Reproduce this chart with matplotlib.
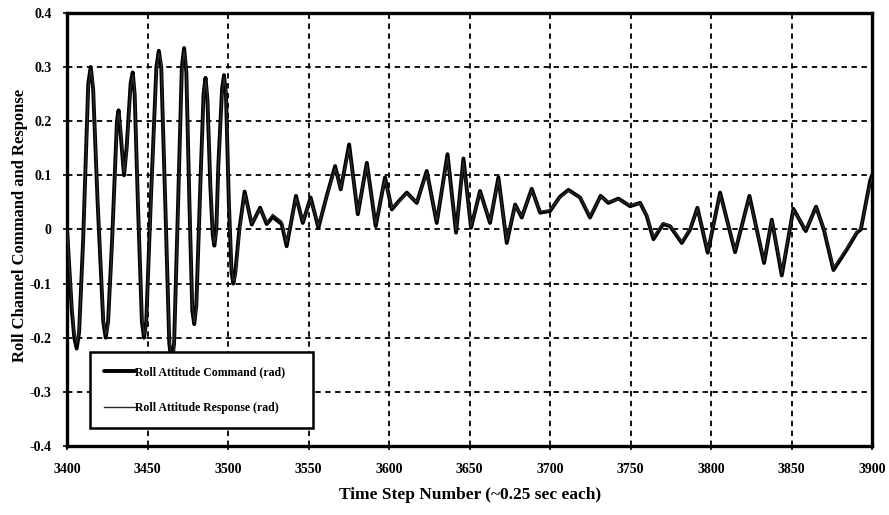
import matplotlib
matplotlib.use("Agg")
import matplotlib.pyplot as plt

step = [3400, 3403, 3404.5, 3406, 3407.5, 3410, 3413.2, 3414.7, 3416.2, 3419,
        3422.5, 3424, 3425.5, 3428, 3431, 3432, 3433.2, 3435.4, 3437, 3439.5,
        3440.8, 3442, 3444, 3446.5, 3447.8, 3449.2, 3452, 3455.5, 3457, 3458.5,
        3461, 3463.5, 3465, 3466.5, 3469, 3471.3, 3472.7, 3474.1, 3476, 3477.8,
        3479, 3480.3, 3483, 3484.8, 3486, 3487.2, 3489, 3490.5, 3491.5, 3492.7,
        3494, 3496.3, 3497.5, 3498.7, 3500.5, 3502.2, 3503.3, 3504.5, 3507, 3510.3,
        3514.7, 3519.9, 3524, 3527.7, 3533.3, 3536.4, 3542.2, 3546.4, 3551.3, 3556.1,
        3561.3, 3566.5, 3570, 3575.2, 3580.6, 3586.2, 3591.7, 3597.5, 3601.7, 3606,
        3611, 3617.2, 3623.4, 3629.6, 3636.3, 3641.6, 3646.2, 3650.9, 3656.5, 3662.7,
        3667.9, 3673.1, 3678.3, 3682.4, 3688.6, 3693.8, 3700, 3706, 3711.4, 3718.6,
        3724.8, 3731.4, 3736.2, 3742.4, 3749.7, 3755.9, 3760, 3764.2, 3770.2, 3774.5,
        3781.8, 3787, 3791.5, 3797.9, 3805.6, 3814.9, 3823.8, 3832.9, 3837.7, 3843.9,
        3851.1, 3858.8, 3865.2, 3870, 3876, 3884.3, 3890.5, 3893, 3898.8, 3900]

# roll attitude command (rad)
roll_cmd = [0.0, -0.15, -0.20, -0.22, -0.19, -0.02, 0.27, 0.30, 0.26, 0.05,
            -0.17, -0.20, -0.17, -0.02, 0.20, 0.22, 0.18, 0.10, 0.15, 0.27,
            0.29, 0.25, 0.05, -0.17, -0.20, -0.17, 0.05, 0.30, 0.33, 0.30,
            0.05, -0.21, -0.25, -0.21, 0.05, 0.30, 0.335, 0.29, 0.05, -0.15,
            -0.175, -0.14, 0.10, 0.25, 0.28, 0.24, 0.08, -0.01, -0.03, 0.00,
            0.12, 0.26, 0.285, 0.25, 0.05, -0.08, -0.10, -0.08, 0.00, 0.07,
            0.009, 0.04, 0.01, 0.023, 0.01, -0.031, 0.062, 0.012, 0.059, 0.003,
            0.062, 0.117, 0.074, 0.157, 0.028, 0.123, 0.006, 0.096, 0.037, 0.052,
            0.068, 0.049, 0.108, 0.012, 0.139, -0.006, 0.131, 0.003, 0.071, 0.012,
            0.096, -0.025, 0.046, 0.022, 0.075, 0.031, 0.034, 0.060, 0.073, 0.059,
            0.022, 0.062, 0.049, 0.057, 0.043, 0.049, 0.025, -0.018, 0.010, 0.006,
            -0.025, 0.000, 0.040, -0.043, 0.068, -0.042, 0.062, -0.062, 0.018, -0.085,
            0.038, -0.003, 0.042, 0.000, -0.075, -0.037, -0.006, 0.000, 0.090, 0.10]

# roll attitude response (rad), follows the command closely
roll_rsp = [0.0, -0.14, -0.19, -0.21, -0.19, -0.03, 0.26, 0.295, 0.27, 0.06,
            -0.16, -0.195, -0.18, -0.03, 0.19, 0.215, 0.19, 0.105, 0.14, 0.26,
            0.285, 0.26, 0.06, -0.16, -0.195, -0.18, 0.04, 0.29, 0.325, 0.31,
            0.06, -0.20, -0.245, -0.22, 0.04, 0.29, 0.33, 0.30, 0.06, -0.14,
            -0.17, -0.15, 0.09, 0.24, 0.275, 0.25, 0.09, 0.00, -0.025, -0.01,
            0.11, 0.25, 0.28, 0.26, 0.06, -0.07, -0.095, -0.09, -0.01, 0.065,
            0.012, 0.038, 0.013, 0.028, 0.015, -0.025, 0.058, 0.015, 0.056, 0.006,
            0.060, 0.112, 0.076, 0.150, 0.032, 0.118, 0.010, 0.092, 0.040, 0.050,
            0.066, 0.051, 0.104, 0.016, 0.133, -0.002, 0.126, 0.006, 0.069, 0.015,
            0.092, -0.020, 0.044, 0.024, 0.072, 0.033, 0.036, 0.058, 0.071, 0.060,
            0.025, 0.060, 0.051, 0.055, 0.045, 0.048, 0.027, -0.014, 0.012, 0.008,
            -0.022, 0.002, 0.038, -0.038, 0.064, -0.038, 0.058, -0.058, 0.016, -0.080,
            0.036, 0.000, 0.040, 0.002, -0.070, -0.034, -0.004, 0.002, 0.085, 0.095]

x_ticks = [3400, 3450, 3500, 3550, 3600, 3650, 3700, 3750, 3800, 3850, 3900]
y_ticks = [-0.4, -0.3, -0.2, -0.1, 0, 0.1, 0.2, 0.3, 0.4]
y_labels = ["-0.4", "-0.3", "-0.2", "-0.1", "0", "0.1", "0.2", "0.3", "0.4"]

plt.rcParams['font.family'] = ['Liberation Serif', 'DejaVu Serif']
plt.rcParams['font.weight'] = 'bold'

fig = plt.figure(figsize=(8.89, 5.15), dpi=100)
ax = fig.add_axes([0.0754, 0.134, 0.9056, 0.841])

ax.plot(step, roll_cmd, color='black', linewidth=2.8, solid_joinstyle='round',
        solid_capstyle='round', label='Roll Attitude Command (rad)', zorder=3)
ax.plot(step, roll_rsp, color='#2a2a2a', linewidth=1.0,
        label='Roll Attitude Response (rad)', zorder=4)

ax.set_xlim(3400, 3900)
ax.set_ylim(-0.4, 0.4)
ax.set_xticks(x_ticks)
ax.set_yticks(y_ticks)
ax.set_yticklabels(y_labels)
ax.tick_params(axis='both', labelsize=10, direction='out', length=3, width=1.2)
ax.tick_params(axis='x', pad=9)
ax.tick_params(axis='y', pad=8)
for lab in ax.get_xticklabels() + ax.get_yticklabels():
    lab.set_fontweight('bold')

ax.grid(True, color='black', linestyle=(0, (3, 2.5)), linewidth=1.3)
ax.set_axisbelow(True)
for sp in ax.spines.values():
    sp.set_linewidth(2.4)

ax.set_xlabel('Time Step Number (~0.25 sec each)', fontsize=12.5, fontweight='bold', labelpad=8)
ax.set_ylabel('Roll Channel Command and Response', fontsize=12, fontweight='bold')
ax.yaxis.set_label_coords(-0.049, 0.51)

leg = ax.legend(loc='lower left', bbox_to_anchor=(0.0286, 0.0416, 0.277, 0.182),
                mode='expand', prop={'weight': 'bold', 'size': 8.5},
                frameon=True, fancybox=False, handlelength=2.6, handletextpad=0.0,
                labelspacing=2.0, borderaxespad=0, borderpad=1.2)
leg.get_frame().set_edgecolor('black')
leg.get_frame().set_linewidth(1.8)
leg.get_frame().set_alpha(1)
leg.set_zorder(10)

fig.savefig('out.png', dpi=100)
